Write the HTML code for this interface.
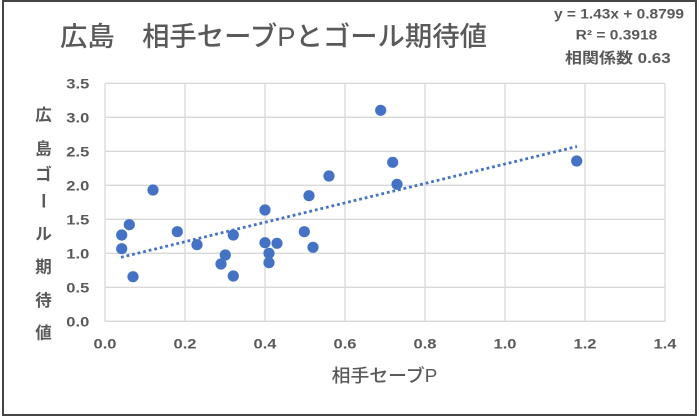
<!DOCTYPE html>
<html><head><meta charset="utf-8"><style>
html,body{margin:0;padding:0;background:#fff;}
svg{display:block;}
text{font-family:"Liberation Sans","Noto Sans CJK JP",sans-serif;fill:#595959;}
.t{font-weight:bold;font-size:13.5px;}
</style></head><body>
<svg width="700" height="420" viewBox="0 0 700 420" xmlns="http://www.w3.org/2000/svg">
<rect x="0" y="0" width="700" height="420" fill="#fff"/>
<rect x="3" y="1" width="693" height="414" fill="none" stroke="#454545" stroke-width="2"/>
<!-- gridlines -->
<g stroke="#d9d9d9" stroke-width="1.3">
<line x1="105" y1="83.3" x2="105" y2="321.3"/>
<line x1="185" y1="83.3" x2="185" y2="321.3"/>
<line x1="265" y1="83.3" x2="265" y2="321.3"/>
<line x1="345" y1="83.3" x2="345" y2="321.3"/>
<line x1="425" y1="83.3" x2="425" y2="321.3"/>
<line x1="505" y1="83.3" x2="505" y2="321.3"/>
<line x1="585" y1="83.3" x2="585" y2="321.3"/>
<line x1="665" y1="83.3" x2="665" y2="321.3"/>
<line x1="105" y1="83.3" x2="665" y2="83.3"/>
<line x1="105" y1="117.3" x2="665" y2="117.3"/>
<line x1="105" y1="151.3" x2="665" y2="151.3"/>
<line x1="105" y1="185.3" x2="665" y2="185.3"/>
<line x1="105" y1="219.3" x2="665" y2="219.3"/>
<line x1="105" y1="253.3" x2="665" y2="253.3"/>
<line x1="105" y1="287.3" x2="665" y2="287.3"/>
<line x1="105" y1="321.3" x2="665" y2="321.3"/>
</g>
<!-- points -->
<g fill="#4472c4">
<circle cx="121.7" cy="235" r="5.6"/>
<circle cx="121.7" cy="248.7" r="5.6"/>
<circle cx="129.3" cy="224.7" r="5.6"/>
<circle cx="133" cy="276.7" r="5.6"/>
<circle cx="153" cy="190" r="5.6"/>
<circle cx="177.3" cy="231.7" r="5.6"/>
<circle cx="197" cy="244.7" r="5.6"/>
<circle cx="221" cy="264" r="5.6"/>
<circle cx="225.3" cy="255" r="5.6"/>
<circle cx="233.3" cy="235" r="5.6"/>
<circle cx="233.3" cy="276" r="5.6"/>
<circle cx="265" cy="210" r="5.6"/>
<circle cx="265" cy="242.7" r="5.6"/>
<circle cx="269" cy="253.3" r="5.6"/>
<circle cx="269" cy="262.7" r="5.6"/>
<circle cx="277" cy="243.3" r="5.6"/>
<circle cx="304.3" cy="231.7" r="5.6"/>
<circle cx="309" cy="195.7" r="5.6"/>
<circle cx="313" cy="247.3" r="5.6"/>
<circle cx="329" cy="176" r="5.6"/>
<circle cx="380.7" cy="110.3" r="5.6"/>
<circle cx="392.7" cy="162.3" r="5.6"/>
<circle cx="397" cy="184.3" r="5.6"/>
<circle cx="576.7" cy="161" r="5.6"/>
</g>
<!-- trendline -->
<line x1="121" y1="257.3" x2="577" y2="146.5" stroke="#4472c4" stroke-width="2.8" stroke-dasharray="2.8 2.9" />
<!-- y tick labels -->
<g>
<text class="t" x="66.3" y="88.3" textLength="23" lengthAdjust="spacingAndGlyphs">3.5</text>
<text class="t" x="66.3" y="122.3" textLength="23" lengthAdjust="spacingAndGlyphs">3.0</text>
<text class="t" x="66.3" y="156.3" textLength="23" lengthAdjust="spacingAndGlyphs">2.5</text>
<text class="t" x="66.3" y="190.3" textLength="23" lengthAdjust="spacingAndGlyphs">2.0</text>
<text class="t" x="66.3" y="224.3" textLength="23" lengthAdjust="spacingAndGlyphs">1.5</text>
<text class="t" x="66.3" y="258.3" textLength="23" lengthAdjust="spacingAndGlyphs">1.0</text>
<text class="t" x="66.3" y="292.3" textLength="23" lengthAdjust="spacingAndGlyphs">0.5</text>
<text class="t" x="66.3" y="326.3" textLength="23" lengthAdjust="spacingAndGlyphs">0.0</text>
</g>
<!-- x tick labels -->
<g>
<text class="t" x="93.5" y="348.5" textLength="23" lengthAdjust="spacingAndGlyphs">0.0</text>
<text class="t" x="173.5" y="348.5" textLength="23" lengthAdjust="spacingAndGlyphs">0.2</text>
<text class="t" x="253.5" y="348.5" textLength="23" lengthAdjust="spacingAndGlyphs">0.4</text>
<text class="t" x="333.5" y="348.5" textLength="23" lengthAdjust="spacingAndGlyphs">0.6</text>
<text class="t" x="413.5" y="348.5" textLength="23" lengthAdjust="spacingAndGlyphs">0.8</text>
<text class="t" x="493.5" y="348.5" textLength="23" lengthAdjust="spacingAndGlyphs">1.0</text>
<text class="t" x="573.5" y="348.5" textLength="23" lengthAdjust="spacingAndGlyphs">1.2</text>
<text class="t" x="653.5" y="348.5" textLength="23" lengthAdjust="spacingAndGlyphs">1.4</text>
</g>
<!-- title -->
<text x="60" y="46" font-size="27" font-weight="500" textLength="427" lengthAdjust="spacingAndGlyphs">広島　相手セーブPとゴール期待値</text>
<!-- equation -->
<text class="t" x="554" y="18.3" textLength="130" lengthAdjust="spacingAndGlyphs">y = 1.43x + 0.8799</text>
<text class="t" x="575.7" y="39.3" textLength="81.6" lengthAdjust="spacingAndGlyphs">R² = 0.3918</text>
<text x="565" y="63" font-size="15" font-weight="bold" textLength="105.7" lengthAdjust="spacingAndGlyphs">相関係数 0.63</text>
<!-- x axis title -->
<text x="331.7" y="382" font-size="18" font-weight="500" textLength="105.6" lengthAdjust="spacingAndGlyphs">相手セーブP</text>
<!-- y axis title -->
<g font-size="16.5" font-weight="bold" text-anchor="middle">
<text x="43.5" y="120.3">広</text>
<text x="43.5" y="154.3">島</text>
<text x="43.5" y="180">ゴ</text>
<text x="0" y="0" transform="translate(43.5,200.7) rotate(90) translate(0,6)">ー</text>
<text x="43.5" y="239.5">ル</text>
<text x="43.5" y="272.5">期</text>
<text x="43.5" y="306.2">待</text>
<text x="43.5" y="338.5">値</text>
</g>
</svg>
</body></html>
